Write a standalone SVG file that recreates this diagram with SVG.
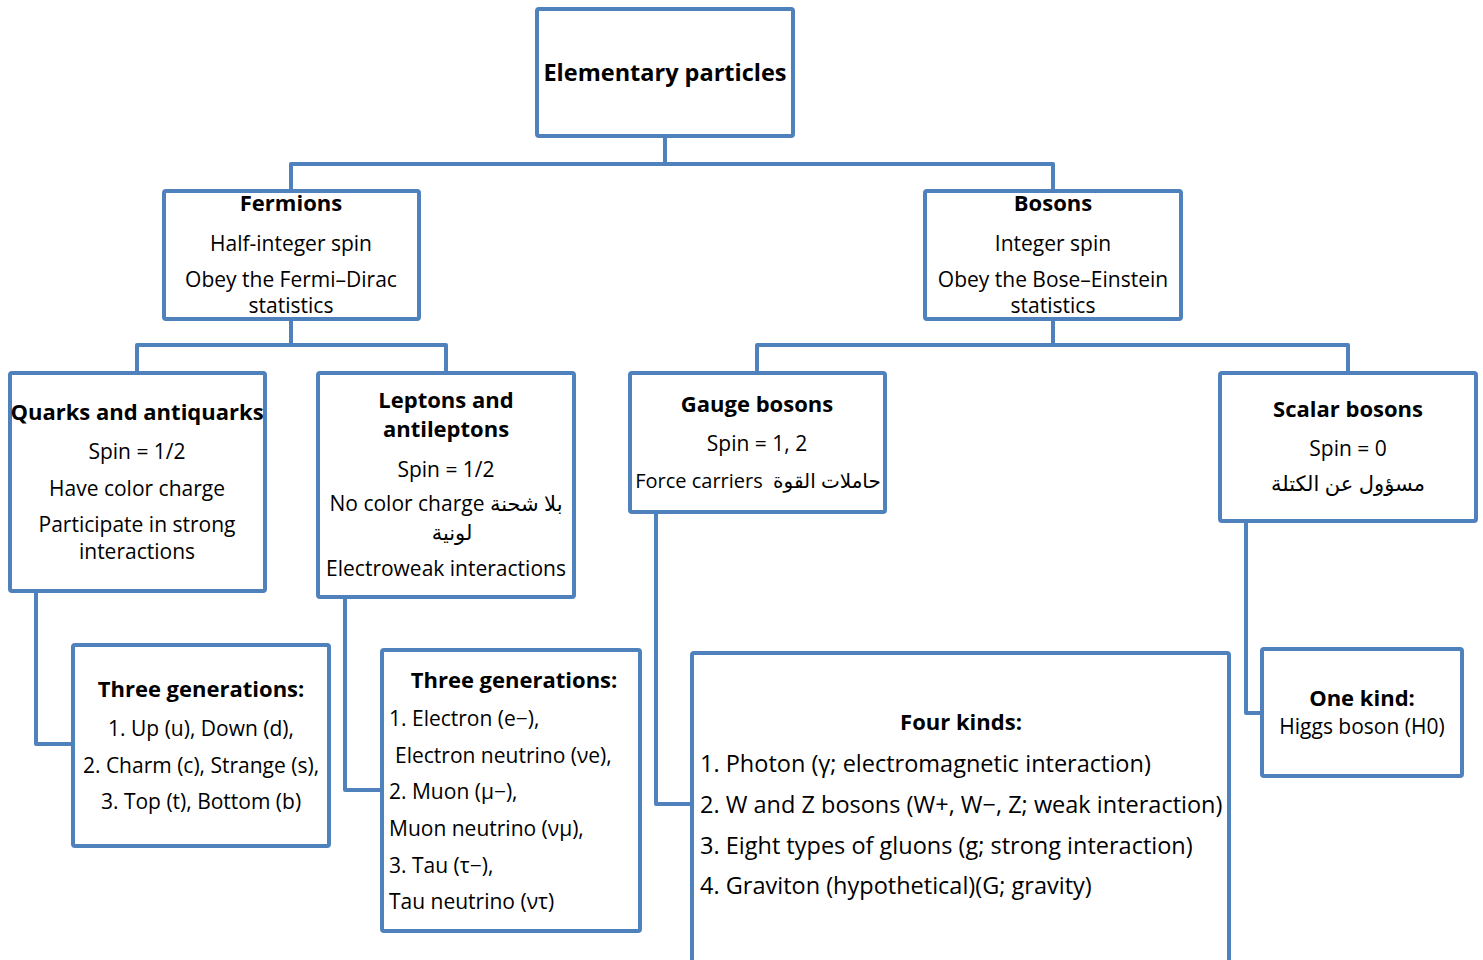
<svg xmlns="http://www.w3.org/2000/svg" width="1483" height="960" viewBox="0 0 1483 960">
<style>
.b{fill:#fff;stroke:#4F81BD;stroke-width:4}
.c{fill:none;stroke:#4F81BD;stroke-width:4;stroke-linejoin:round}
text{font-family:"Open Sans","DejaVu Sans",sans-serif;font-size:21px;fill:#000}
.t{font-weight:bold;font-size:22px}
.m{text-anchor:middle}
.big{font-size:23.5px}
.l{font-size:23.5px}
</style>
<rect width="1483" height="960" fill="#fff"/>
<g id="connectors">
<path class="c" d="M665 136V164M291 191V164H1053V191"/>
<path class="c" d="M291 319V345M137 373V345H446V373"/>
<path class="c" d="M1053 319V345M757 373V345H1348V373"/>
<path class="c" d="M36 591V744H73"/>
<path class="c" d="M345 597V790H382"/>
<path class="c" d="M656 512V804H692"/>
<path class="c" d="M1246 521V713H1262"/>
</g>
<g id="elementary">
<rect class="b" x="537" y="9" width="256" height="127" rx="2"/>
<text class="t m big" x="665" y="81">Elementary particles</text>
</g>
<g id="fermions">
<rect class="b" x="164" y="191" width="255" height="128" rx="2"/>
<text class="t m" x="291" y="211">Fermions</text>
<text class="m" x="291" y="251">Half-integer spin</text>
<text class="m" x="291" y="287">Obey the Fermi–Dirac</text>
<text class="m" x="291" y="313">statistics</text>
</g>
<g id="bosons">
<rect class="b" x="925" y="191" width="256" height="128" rx="2"/>
<text class="t m" x="1053" y="211">Bosons</text>
<text class="m" x="1053" y="251">Integer spin</text>
<text class="m" x="1053" y="287">Obey the Bose–Einstein</text>
<text class="m" x="1053" y="313">statistics</text>
</g>
<g id="quarks">
<rect class="b" x="10" y="373" width="255" height="218" rx="2"/>
<text class="t m" x="137" y="420">Quarks and antiquarks</text>
<text class="m" x="137" y="459">Spin = 1/2</text>
<text class="m" x="137" y="496">Have color charge</text>
<text class="m" x="137" y="532">Participate in strong</text>
<text class="m" x="137" y="559">interactions</text>
</g>
<g id="leptons">
<rect class="b" x="318" y="373" width="256" height="224" rx="2"/>
<text class="t m" x="446" y="408">Leptons and</text>
<text class="t m" x="446" y="437">antileptons</text>
<text class="m" x="446" y="477">Spin = 1/2</text>
<text class="m" x="446" y="511">No color charge بلا شحنة</text>
<text class="m" x="452" y="540">لونية</text>
<text class="m" x="446" y="576">Electroweak interactions</text>
</g>
<g id="gauge">
<rect class="b" x="630" y="373" width="255" height="139" rx="2"/>
<text class="t m" x="757" y="412">Gauge bosons</text>
<text class="m" x="757" y="451">Spin = 1, 2</text>
<text class="m" x="758" y="488" style="font-size:20px" xml:space="preserve">Force carriers  حاملات القوة</text>
</g>
<g id="scalar">
<rect class="b" x="1220" y="373" width="256" height="148" rx="2"/>
<text class="t m" x="1348" y="417">Scalar bosons</text>
<text class="m" x="1348" y="456">Spin = 0</text>
<text class="m" x="1348" y="491">مسؤول عن الكتلة</text>
</g>
<g id="quark-generations">
<rect class="b" x="73" y="645" width="256" height="201" rx="2"/>
<text class="t m" x="201" y="697">Three generations:</text>
<text class="m" x="201" y="736">1. Up (u), Down (d),</text>
<text class="m" x="201" y="773">2. Charm (c), Strange (s),</text>
<text class="m" x="201" y="809">3. Top (t), Bottom (b)</text>
</g>
<g id="lepton-generations">
<rect class="b" x="382" y="650" width="258" height="281" rx="2"/>
<text class="t m" x="514" y="688">Three generations:</text>
<text x="389" y="726">1. Electron (e−),</text>
<text x="395" y="763">Electron neutrino (νe),</text>
<text x="389" y="799">2. Muon (μ−),</text>
<text x="389" y="836">Muon neutrino (νμ),</text>
<text x="389" y="873">3. Tau (τ−),</text>
<text x="389" y="909">Tau neutrino (ντ)</text>
</g>
<g id="four-kinds">
<rect class="b" x="692" y="653" width="537" height="310" rx="2"/>
<text class="t m" x="961" y="730">Four kinds:</text>
<text class="l" x="700" y="772">1. Photon (γ; electromagnetic interaction)</text>
<text class="l" x="700" y="813">2. W and Z bosons (W+, W−, Z; weak interaction)</text>
<text class="l" x="700" y="854">3. Eight types of gluons (g; strong interaction)</text>
<text class="l" x="700" y="894">4. Graviton (hypothetical)(G; gravity)</text>
</g>
<g id="one-kind">
<rect class="b" x="1262" y="649" width="200" height="127" rx="2"/>
<text class="t m" x="1362" y="706">One kind:</text>
<text class="m" x="1362" y="734">Higgs boson (H0)</text>
</g>
</svg>
